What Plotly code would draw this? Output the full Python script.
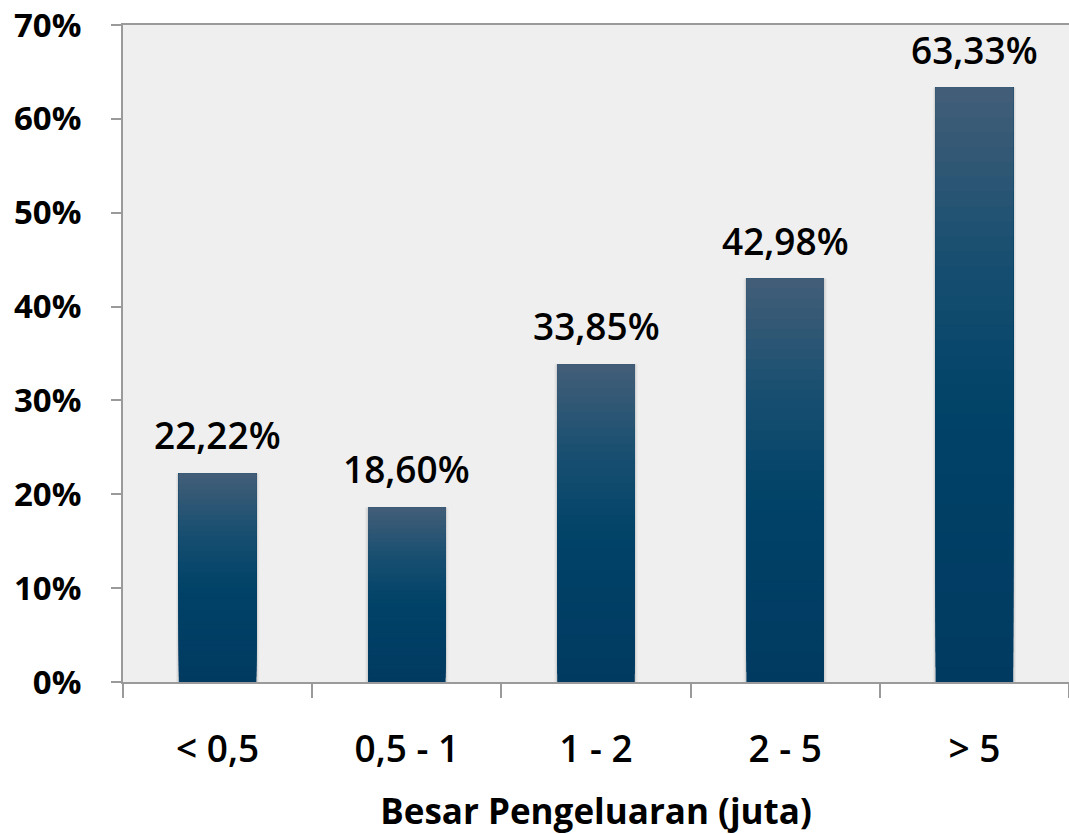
import plotly.graph_objects as go

categories = ["< 0,5", "0,5 - 1", "1 - 2", "2 - 5", "> 5"]
values = [22.22, 18.60, 33.85, 42.98, 63.33]
labels = ["22,22%", "18,60%", "33,85%", "42,98%", "63,33%"]
y_ticks = [0, 10, 20, 30, 40, 50, 60, 70]
y_ticktext = ["0%", "10%", "20%", "30%", "40%", "50%", "60%", "70%"]

FONT = "Open Sans"

# gradient stops along the bar height (fraction of bar, colour)
stops = [(0.0, (1, 58, 97)), (0.45, (1, 66, 104)), (0.7, (22, 78, 112)), (1.0, (67, 94, 120))]


def colour_at(t):
    for (t0, c0), (t1, c1) in zip(stops[:-1], stops[1:]):
        if t0 <= t <= t1:
            f = (t - t0) / (t1 - t0)
            c = [round(a + (b - a) * f) for a, b in zip(c0, c1)]
            return f"rgb({c[0]},{c[1]},{c[2]})"
    return "rgb(67,94,120)"


fig = go.Figure()

# soft shadow behind the bars
for w, a in [(0.44, 0.04), (0.425, 0.08)]:
    fig.add_trace(go.Bar(
        x=categories, y=values, width=w,
        marker=dict(color=f"rgba(0,0,0,{a})", line=dict(width=0)),
        hoverinfo="skip", showlegend=False,
    ))

# overlay of bars, each from a fraction of the value to the top,
# so later (lighter) ones paint the upper part -> vertical gradient
n_steps = 40
for k in range(n_steps):
    t0 = k / n_steps
    fig.add_trace(go.Bar(
        x=categories,
        y=[v * (1 - t0) for v in values],
        base=[v * t0 for v in values],
        width=0.41,
        marker=dict(color=colour_at(t0 + 0.5 / n_steps), line=dict(width=0)),
        hoverinfo="skip",
        showlegend=False,
    ))

for c, v, lab in zip(categories, values, labels):
    fig.add_annotation(
        x=c, y=v, text=lab, showarrow=False,
        yanchor="bottom", yshift=11,
        font=dict(family=FONT, size=37, color="black", weight=600),
    )

fig.update_layout(
    width=1069,
    height=834,
    margin=dict(l=123, r=0, t=25, b=152),
    paper_bgcolor="white",
    plot_bgcolor="#efefef",
    barmode="overlay",
    font=dict(family=FONT, color="black"),
)

fig.update_xaxes(
    automargin=False,
    showline=True,
    linecolor="#9a9a9a",
    linewidth=2,
    mirror=True,
    ticks="outside",
    tickson="boundaries",
    ticklen=14,
    tickcolor="#9a9a9a",
    tickwidth=1.5,
    tickfont=dict(family=FONT, size=37, color="black", weight=600),
    ticklabelstandoff=34,
    title=dict(text="Besar Pengeluaran (juta)",
               font=dict(family=FONT, size=35, color="black", weight="bold"), standoff=28),
    showgrid=False,
)

fig.update_yaxes(
    automargin=False,
    range=[0, 70],
    tickvals=y_ticks,
    ticktext=y_ticktext,
    showline=True,
    linecolor="#9a9a9a",
    linewidth=2,
    ticks="outside",
    ticklen=10,
    tickcolor="#9a9a9a",
    tickwidth=2,
    tickfont=dict(family=FONT, size=33, color="black", weight="bold"),
    ticklabelstandoff=23,
    showgrid=False,
    zeroline=False,
)

fig.write_html(
    "out.html",
    config={"displayModeBar": False},
    post_script="document.body.style.margin='0';document.body.style.overflow='hidden';",
)
